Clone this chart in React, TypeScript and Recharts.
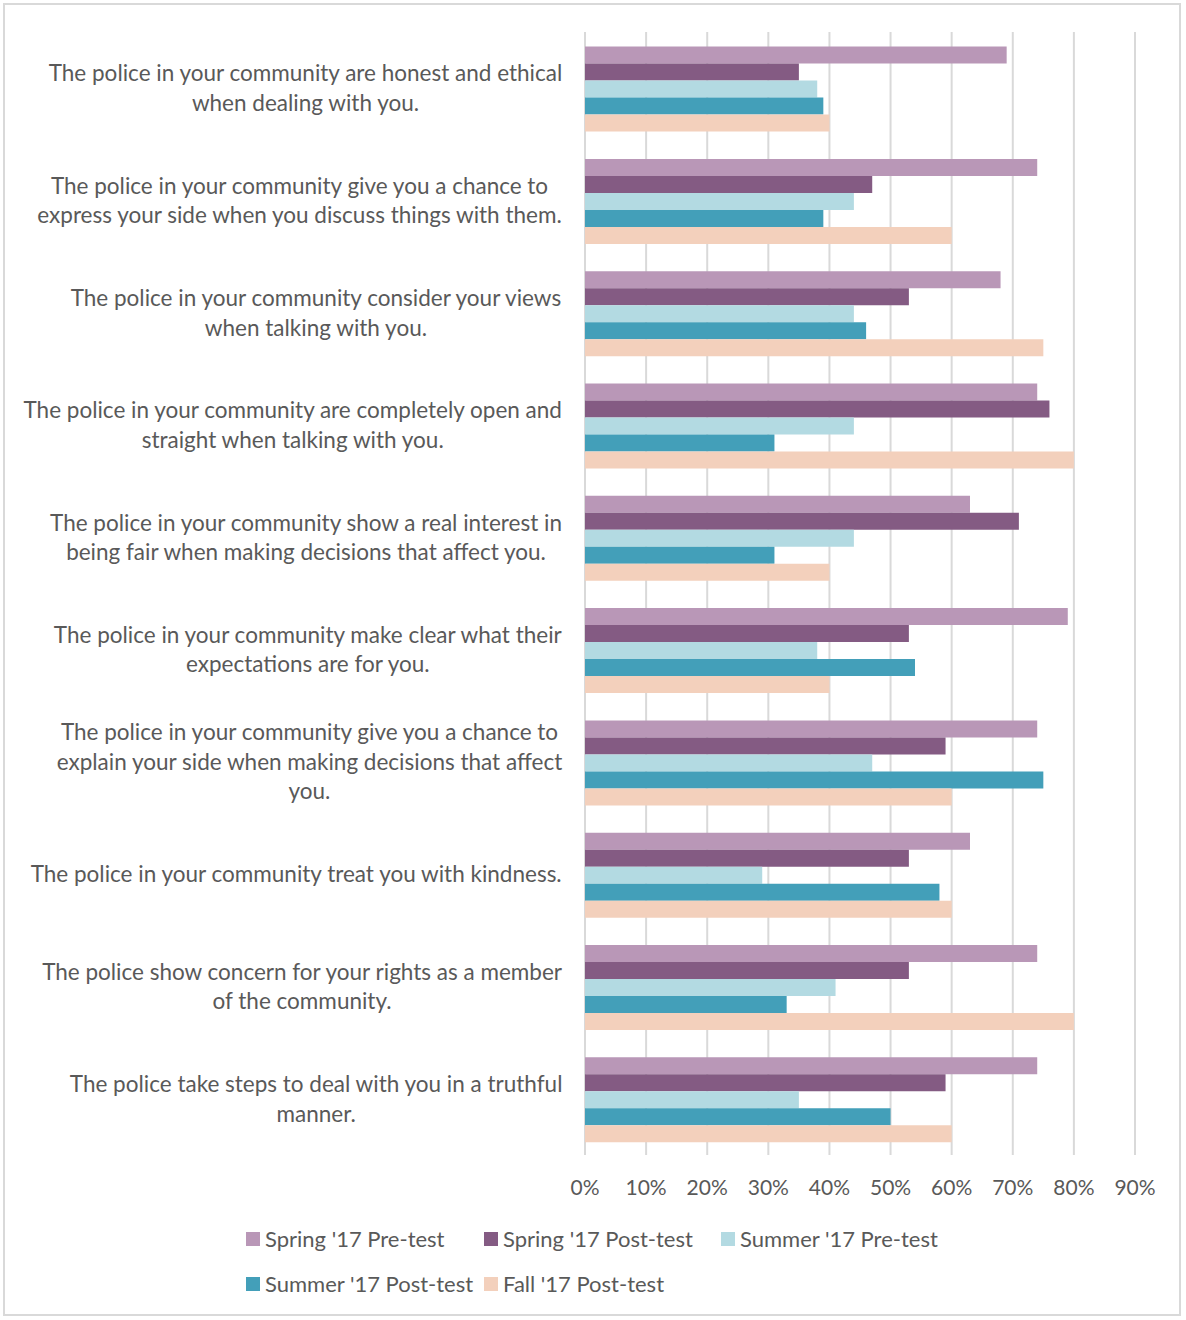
import { BarChart, Bar, XAxis, YAxis, CartesianGrid } from "recharts";

const statements = [
  "The police in your community are honest and ethical\nwhen dealing with you.",
  "The police in your community give you a chance to\nexpress your side when you discuss things with them.",
  "The police in your community consider your views\nwhen talking with you.",
  "The police in your community are completely open and\nstraight when talking with you.",
  "The police in your community show a real interest in\nbeing fair when making decisions that affect you.",
  "The police in your community make clear what their\nexpectations are for you.",
  "The police in your community give you a chance to\nexplain your side when making decisions that affect\nyou.",
  "The police in your community treat you with kindness.",
  "The police show concern for your rights as a member\nof the community.",
  "The police take steps to deal with you in a truthful\nmanner.",
];

const springPre = [69, 74, 68, 74, 63, 79, 74, 63, 74, 74];
const springPost = [35, 47, 53, 76, 71, 53, 59, 53, 53, 59];
const summerPre = [38, 44, 44, 44, 44, 38, 47, 29, 41, 35];
const summerPost = [39, 39, 46, 31, 31, 54, 75, 58, 33, 50];
const fallPost = [40, 60, 75, 80, 40, 40, 60, 60, 80, 60];

const xTicks = [0, 10, 20, 30, 40, 50, 60, 70, 80, 90];

const series = [
  { key: "springPre", name: "Spring '17 Pre-test", color: "#B997B7" },
  { key: "springPost", name: "Spring '17 Post-test", color: "#845B83" },
  { key: "summerPre", name: "Summer '17 Pre-test", color: "#B3DAE2" },
  { key: "summerPost", name: "Summer '17 Post-test", color: "#439FB9" },
  { key: "fallPost", name: "Fall '17 Post-test", color: "#F3D0BC" },
];

const data = statements.map((s, i) => ({
  statement: s,
  springPre: springPre[i],
  springPost: springPost[i],
  summerPre: summerPre[i],
  summerPost: summerPost[i],
  fallPost: fallPost[i],
}));

const FONT = "Lato, 'Open Sans', sans-serif";
const TEXT = "#595959";
const LABEL_SIZE = 22.5;

let ctx: CanvasRenderingContext2D | null = null;
const measure = (t: string) => {
  if (!ctx) ctx = document.createElement("canvas").getContext("2d");
  if (!ctx) return t.length * 10;
  ctx.font = `${LABEL_SIZE}px ${FONT}`;
  return ctx.measureText(t).width;
};

const StatementTick = (props: any) => {
  const { x, y, payload } = props;
  const lines: string[] = String(payload.value).split("\n");
  const w = Math.max(...lines.map(measure));
  const right = x - 14;
  const cx = right - w / 2;
  const lh = 29.5;
  const top = y - 1 - ((lines.length - 1) * lh) / 2;
  return (
    <text
      fontFamily={FONT}
      fontSize={LABEL_SIZE}
      fill={TEXT}
      textAnchor="middle"
      dominantBaseline="central"
    >
      {lines.map((l, i) => (
        <tspan key={i} x={cx} y={top + i * lh}>
          {l}
        </tspan>
      ))}
    </text>
  );
};

const App = () => {
  return (
    <div
      style={{
        position: "absolute",
        top: 0,
        left: 0,
        width: 1186,
        height: 1320,
        background: "#fff",
        fontFamily: FONT,
      }}
    >
      <div
        style={{
          position: "absolute",
          top: 3,
          left: 3,
          width: 1178,
          height: 1313,
          border: "2px solid #d9d9d9",
          boxSizing: "border-box",
        }}
      />
      <BarChart
        layout="vertical"
        width={1186}
        height={1320}
        data={data}
        margin={{ top: 32, right: 51, bottom: 0, left: 0 }}
        barCategoryGap="13%"
        barGap={0}
      >
        <CartesianGrid horizontal={false} stroke="#d9d9d9" strokeWidth={2} />
        <XAxis
          type="number"
          domain={[0, 90]}
          ticks={xTicks}
          tickFormatter={(v) => `${v}%`}
          axisLine={false}
          tickLine={false}
          tickMargin={19}
          tick={{ fill: TEXT, fontSize: 21, fontFamily: FONT }}
          height={165}
          interval={0}
        />
        <YAxis
          type="category"
          dataKey="statement"
          width={585}
          axisLine={false}
          tickLine={false}
          tick={<StatementTick />}
          interval={0}
        />
        {series.map((s) => (
          <Bar
            key={s.key}
            dataKey={s.key}
            name={s.name}
            fill={s.color}
            isAnimationActive={false}
          />
        ))}
      </BarChart>
      <div
        style={{
          position: "absolute",
          top: 1224,
          left: 246,
          display: "grid",
          gridTemplateColumns: "238px 237px 238px",
          rowGap: 16,
          fontSize: 22,
          color: TEXT,
        }}
      >
        {series.map((s) => (
          <div
            key={s.key}
            style={{ display: "flex", alignItems: "center", height: 29, whiteSpace: "nowrap" }}
          >
            <span
              style={{
                width: 14,
                height: 14,
                background: s.color,
                marginRight: 5,
                display: "inline-block",
              }}
            />
            {s.name}
          </div>
        ))}
      </div>
    </div>
  );
};

export default App;
